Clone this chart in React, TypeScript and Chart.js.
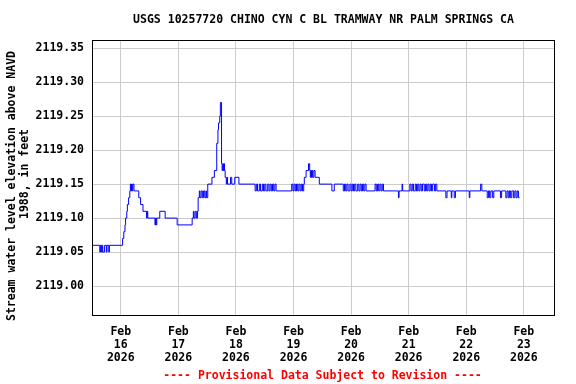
import React, { useEffect, useRef } from 'react';
import { Chart, registerables } from 'chart.js';

Chart.register(...registerables);

// Hours since 2026-02-16 00:00 (local) at which the gage reading changed
const hours = [
  -12, -8.75, -8.5, -8, -7.75, -7.5, -6.75, -6, -5.75, -5, -4.75,
  0.75, 1.25, 1.75, 2, 2.5, 2.75, 3.25, 3.75, 4, 4.25, 4.5, 4.75, 5, 5.5,
  7.5, 8.25, 9.25, 10.75, 11, 11.25, 14.25, 14.5, 14.75, 15, 16.25, 18.5, 23.5,
  29.75, 30.25, 30.5, 31, 31.5, 32, 32.25, 32.75, 33, 33.5, 34, 34.5, 35, 35.5, 35.75, 36.25,
  38, 39, 40, 40.5, 40.75, 41.25, 41.5, 42, 42.25, 42.5, 42.75, 43, 43.25, 43.5, 44, 44.25, 44.5,
  45.75, 46.25, 47.5, 49.25,
  56, 56.5, 57, 57.75, 58.25, 59, 59.5, 60, 60.5, 61.25, 61.75, 62.25, 62.75, 63.25, 63.75, 64.25, 64.75,
  71.25, 71.75, 72.25, 72.75, 73.25, 73.75, 74.25, 74.75, 75.25, 75.75, 76.25, 76.5, 77.25, 78.25,
  78.75, 79, 79.25, 79.5, 79.75, 80, 80.5, 81, 82.75, 88, 89,
  92.75, 93.25, 93.75, 94.25, 94.75, 95.5, 96, 96.5, 97, 97.5, 98, 98.75, 99.25, 99.75, 100.25, 100.75,
  101.25, 101.75, 102.25, 106, 106.5, 107, 107.5, 108, 108.5, 109, 109.5, 115.75, 116, 117.25, 117.5,
  120.5, 121, 121.5, 122, 122.75, 123.25, 123.75, 124.25, 124.75, 125.25, 125.75, 126.5, 127, 127.5,
  128, 128.5, 129, 129.5, 130, 130.75, 131.25, 131.75,
  135.5, 136, 137.75, 138, 139, 139.5, 145.25, 145.5, 150, 150.5,
  152.75, 153.25, 153.75, 154.25, 155, 155.5, 158.25, 158.75, 160.5, 161, 161.5, 162, 162.5, 163,
  163.75, 164.25, 164.75, 165.25, 165.75, 166.25,
];

// Stream water level elevation above NAVD 1988, feet
const levels = [
  2119.06, 2119.05, 2119.06, 2119.05, 2119.06, 2119.05, 2119.06, 2119.05, 2119.06, 2119.05, 2119.06,
  2119.07, 2119.08, 2119.09, 2119.10, 2119.11, 2119.12, 2119.13, 2119.14, 2119.15, 2119.14, 2119.15, 2119.14, 2119.15, 2119.14,
  2119.13, 2119.12, 2119.11, 2119.10, 2119.11, 2119.10, 2119.09, 2119.10, 2119.09, 2119.10, 2119.11, 2119.10, 2119.09,
  2119.10, 2119.11, 2119.10, 2119.11, 2119.10, 2119.11, 2119.13, 2119.14, 2119.13, 2119.14, 2119.13, 2119.14, 2119.13, 2119.14, 2119.13, 2119.15,
  2119.16, 2119.17, 2119.21, 2119.23, 2119.24, 2119.25, 2119.27, 2119.18, 2119.17, 2119.18, 2119.17, 2119.18, 2119.17, 2119.16, 2119.15, 2119.16, 2119.15,
  2119.16, 2119.15, 2119.16, 2119.15,
  2119.14, 2119.15, 2119.14, 2119.15, 2119.14, 2119.15, 2119.14, 2119.15, 2119.14, 2119.15, 2119.14, 2119.15, 2119.14, 2119.15, 2119.14, 2119.15, 2119.14,
  2119.15, 2119.14, 2119.15, 2119.14, 2119.15, 2119.14, 2119.15, 2119.14, 2119.15, 2119.14, 2119.15, 2119.16, 2119.17, 2119.18,
  2119.17, 2119.16, 2119.17, 2119.16, 2119.17, 2119.16, 2119.17, 2119.16, 2119.15, 2119.14, 2119.15,
  2119.14, 2119.15, 2119.14, 2119.15, 2119.14, 2119.15, 2119.14, 2119.15, 2119.14, 2119.15, 2119.14, 2119.15, 2119.14, 2119.15, 2119.14, 2119.15,
  2119.14, 2119.15, 2119.14, 2119.15, 2119.14, 2119.15, 2119.14, 2119.15, 2119.14, 2119.15, 2119.14, 2119.13, 2119.14, 2119.15, 2119.14,
  2119.15, 2119.14, 2119.15, 2119.14, 2119.15, 2119.14, 2119.15, 2119.14, 2119.15, 2119.14, 2119.15, 2119.14, 2119.15, 2119.14,
  2119.15, 2119.14, 2119.15, 2119.14, 2119.15, 2119.14, 2119.15, 2119.14,
  2119.13, 2119.14, 2119.13, 2119.14, 2119.13, 2119.14, 2119.13, 2119.14, 2119.15, 2119.14,
  2119.13, 2119.14, 2119.13, 2119.14, 2119.13, 2119.14, 2119.13, 2119.14, 2119.13, 2119.14, 2119.13, 2119.14, 2119.13, 2119.14,
  2119.13, 2119.14, 2119.13, 2119.14, 2119.13, 2119.13,
];

const tickHours = [0, 24, 48, 72, 96, 120, 144, 168];
const tickMonth = 'Feb';
const tickDays = ['16', '17', '18', '19', '20', '21', '22', '23'];
const tickYear = '2026';
const yTicks = [2119.0, 2119.05, 2119.1, 2119.15, 2119.2, 2119.25, 2119.3, 2119.35];

const titleText = 'USGS 10257720 CHINO CYN C BL TRAMWAY NR PALM SPRINGS CA';
const footerText = '---- Provisional Data Subject to Revision ----';
const yTitleLines = ['Stream water level elevation above NAVD', '1988, in feet'];

const FONT = "'DejaVu Sans Mono', 'Liberation Mono', monospace";

const decorPlugin = {
  id: 'decor',
  afterDraw(chart: any) {
    const { ctx, chartArea } = chart;
    const { left, top, right, bottom } = chartArea;
    ctx.save();
    // frame
    ctx.strokeStyle = '#000000';
    ctx.lineWidth = 1;
    ctx.strokeRect(Math.round(left) + 0.5, Math.round(top) + 0.5, Math.round(right - left) - 1, Math.round(bottom - top) - 1);
    // title
    ctx.font = `bold 11.5px ${FONT}`;
    ctx.textAlign = 'center';
    ctx.textBaseline = 'middle';
    ctx.fillStyle = '#000000';
    const cx = (left + right) / 2;
    ctx.fillText(titleText, cx, 20);
    // footer
    ctx.fillStyle = '#ff0000';
    ctx.fillText(footerText, cx - 1, 376);
    // y-axis title
    ctx.fillStyle = '#000000';
    ctx.save();
    ctx.translate(12, 186);
    ctx.rotate(-Math.PI / 2);
    ctx.fillText(yTitleLines[0], 0, 0);
    ctx.restore();
    ctx.save();
    ctx.translate(25, 174);
    ctx.rotate(-Math.PI / 2);
    ctx.fillText(yTitleLines[1], 0, 0);
    ctx.restore();
    ctx.restore();
  },
};

export default function App() {
  const ref = useRef<HTMLCanvasElement>(null);

  useEffect(() => {
    document.body.style.margin = '0';
    const canvas = ref.current;
    if (!canvas) return;
    const tickFont = { family: FONT, size: 11.5, weight: 'bold' as const, lineHeight: 1.11 };
    const chart = new Chart(canvas, {
      type: 'line',
      data: {
        datasets: [
          {
            data: hours.map((h, i) => ({ x: h, y: levels[i] })),
            borderColor: '#0000ff',
            borderWidth: 1,
            pointRadius: 0,
            stepped: true,
            fill: false,
          },
        ],
      },
      options: {
        animation: false,
        responsive: false,
        devicePixelRatio: 1,
        layout: { padding: { top: 40, right: 21, left: 0, bottom: 0 } },
        plugins: {
          legend: { display: false },
          tooltip: { enabled: false },
          title: { display: false },
        },
        scales: {
          x: {
            type: 'linear',
            min: -12,
            max: 181,
            grid: { color: '#cccccc', lineWidth: 1, drawTicks: false },
            border: { display: false },
            afterBuildTicks: (s: any) => {
              s.ticks = tickHours.map((v) => ({ value: v }));
            },
            afterFit: (s: any) => {
              s.height = 68;
            },
            ticks: {
              autoSkip: false,
              maxRotation: 0,
              minRotation: 0,
              padding: 10,
              color: '#000000',
              font: tickFont,
              callback: (_v: any, i: number) => [tickMonth, tickDays[i], tickYear],
            },
          },
          y: {
            type: 'linear',
            min: 2118.956,
            max: 2119.362,
            grid: { color: '#cccccc', lineWidth: 1, drawTicks: false },
            border: { display: false },
            afterBuildTicks: (s: any) => {
              s.ticks = yTicks.map((v) => ({ value: v }));
            },
            afterFit: (s: any) => {
              s.width = 92;
            },
            ticks: {
              autoSkip: false,
              padding: 8,
              color: '#000000',
              font: tickFont,
              callback: (v: any) => Number(v).toFixed(2),
            },
          },
        },
      },
      plugins: [decorPlugin],
    });
    return () => chart.destroy();
  }, []);

  return <canvas ref={ref} width={576} height={384} style={{ display: 'block' }} />;
}
